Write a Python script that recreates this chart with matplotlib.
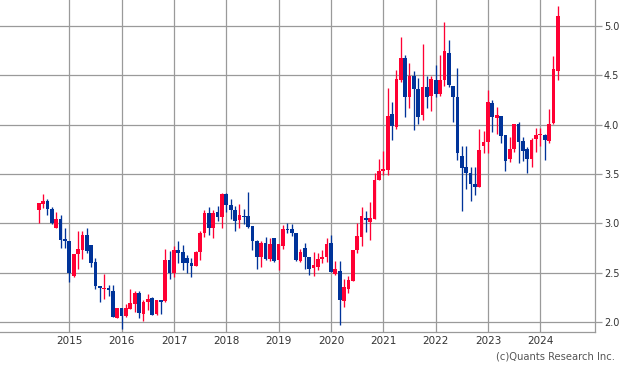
import matplotlib
matplotlib.use("Agg")
import matplotlib.pyplot as plt
import numpy as np

# Monthly candles, June 2014 .. May 2024
start_year = 2014
start_month = 6

opens = [
    3.13, 3.20, 3.23, 3.15, 2.95, 3.04, 2.84,                                   # 2014 Jun-Dec
    2.82, 2.47, 2.69, 2.73, 2.88, 2.78, 2.61, 2.36, 2.33, 2.34, 2.31, 2.04,     # 2015
    2.14, 2.06, 2.13, 2.18, 2.29, 2.08, 2.20, 2.24, 2.08, 2.22, 2.21, 2.63,     # 2016
    2.50, 2.73, 2.71, 2.65, 2.60, 2.57, 2.71, 2.90, 3.10, 2.95, 3.11, 3.06,     # 2017
    3.30, 3.19, 3.13, 3.03, 3.07, 3.07, 2.97, 2.82, 2.66, 2.80, 2.64, 2.85,     # 2018
    2.63, 2.77, 2.94, 2.94, 2.90, 2.62, 2.75, 2.66, 2.55, 2.56, 2.64, 2.66,     # 2019
    2.80, 2.49, 2.52, 2.21, 2.33, 2.42, 2.73, 2.86, 3.05, 3.01, 3.04, 3.44,     # 2020
    3.53, 3.54, 4.11, 3.98, 4.45, 4.68, 4.28, 4.49, 4.36, 4.10, 4.38, 4.29,     # 2021
    4.45, 4.31, 4.45, 4.73, 4.39, 4.28, 3.68, 3.57, 3.51, 3.40, 3.37, 3.78,     # 2022
    3.82, 4.22, 4.07, 4.09, 3.89, 3.65, 3.75, 4.01, 3.83, 3.75, 3.65, 3.85,     # 2023
    3.89, 3.90, 3.83, 4.02, 4.54,                                               # 2024
]
highs = [
    3.21, 3.30, 3.25, 3.17, 3.11, 3.08, 2.95,
    2.82, 2.69, 2.92, 2.92, 2.95, 2.78, 2.65, 2.36, 2.49, 2.37, 2.37, 2.14,
    2.14, 2.18, 2.33, 2.31, 2.31, 2.22, 2.28, 2.25, 2.22, 2.22, 2.74, 2.72,
    2.77, 2.82, 2.78, 2.68, 2.65, 2.72, 2.92, 3.14, 3.17, 3.14, 3.18, 3.31,
    3.31, 3.25, 3.18, 3.20, 3.15, 3.32, 2.97, 2.83, 2.82, 2.86, 2.85, 2.85,
    2.79, 2.98, 3.00, 2.99, 2.90, 2.74, 2.80, 2.66, 2.71, 2.70, 2.73, 2.85,
    2.88, 2.62, 2.62, 2.44, 2.47, 2.73, 3.00, 3.17, 3.12, 3.22, 3.51, 3.65,
    3.73, 4.37, 4.23, 4.55, 4.89, 4.71, 4.62, 4.54, 4.47, 4.82, 4.49, 4.49,
    4.60, 4.71, 5.04, 4.86, 4.39, 4.57, 3.78, 3.78, 3.57, 3.57, 3.96, 3.94,
    4.35, 4.25, 4.18, 4.09, 3.89, 3.87, 4.01, 4.03, 3.87, 3.77, 3.86, 3.97,
    3.97, 3.91, 4.16, 4.70, 5.20,
]
lows = [
    3.00, 3.16, 3.08, 2.99, 2.95, 2.75, 2.75,
    2.41, 2.46, 2.54, 2.64, 2.70, 2.56, 2.33, 2.20, 2.23, 2.26, 2.05, 2.04,
    1.93, 2.05, 2.13, 2.10, 2.04, 2.01, 2.12, 2.07, 2.07, 2.08, 2.20, 2.44,
    2.46, 2.60, 2.53, 2.50, 2.46, 2.57, 2.63, 2.86, 2.88, 2.85, 3.02, 2.95,
    3.11, 3.04, 2.92, 2.95, 2.99, 2.95, 2.73, 2.54, 2.56, 2.63, 2.62, 2.61,
    2.53, 2.74, 2.90, 2.87, 2.62, 2.61, 2.54, 2.48, 2.47, 2.53, 2.60, 2.61,
    2.51, 2.48, 1.97, 2.15, 2.29, 2.42, 2.70, 2.77, 2.91, 2.83, 3.04, 3.44,
    3.49, 3.49, 3.84, 3.96, 4.43, 4.08, 4.17, 3.95, 4.01, 4.05, 4.17, 4.14,
    4.28, 4.29, 4.39, 4.38, 4.03, 3.64, 3.12, 3.35, 3.23, 3.29, 3.37, 3.71,
    3.71, 3.93, 3.91, 3.81, 3.53, 3.62, 3.72, 3.61, 3.63, 3.51, 3.57, 3.72,
    3.78, 3.64, 3.81, 4.01, 4.45,
]
closes = [
    3.21, 3.23, 3.15, 3.00, 3.04, 2.83, 2.82,
    2.50, 2.69, 2.74, 2.88, 2.72, 2.60, 2.36, 2.34, 2.34, 2.32, 2.05, 2.14,
    2.06, 2.14, 2.19, 2.29, 2.09, 2.20, 2.23, 2.07, 2.22, 2.20, 2.63, 2.50,
    2.73, 2.70, 2.60, 2.60, 2.57, 2.71, 2.90, 3.10, 2.95, 3.10, 3.06, 3.30,
    3.19, 3.13, 3.02, 3.08, 3.06, 2.96, 2.82, 2.66, 2.80, 2.64, 2.79, 2.62,
    2.79, 2.94, 2.93, 2.90, 2.63, 2.71, 2.66, 2.54, 2.58, 2.64, 2.66, 2.79,
    2.51, 2.54, 2.22, 2.35, 2.43, 2.73, 2.87, 3.07, 3.03, 3.05, 3.44, 3.53,
    3.55, 4.09, 3.99, 4.46, 4.68, 4.28, 4.49, 4.36, 4.08, 4.38, 4.28, 4.46,
    4.31, 4.45, 4.75, 4.40, 4.28, 3.71, 3.56, 3.51, 3.40, 3.37, 3.74, 3.82,
    4.23, 4.08, 4.10, 3.88, 3.63, 3.75, 4.01, 3.82, 3.73, 3.65, 3.84, 3.89,
    3.91, 3.84, 4.01, 4.56, 5.10,
]

year_ticks = [2015, 2016, 2017, 2018, 2019, 2020, 2021, 2022, 2023, 2024]
price_ticks = [2.0, 2.5, 3.0, 3.5, 4.0, 4.5, 5.0]
credit = "(c)Quants Research Inc."

up_color = "#ff0033"
down_color = "#003399"
grid_color = "#9a9a9a"

o = np.array(opens); h = np.array(highs); l = np.array(lows); c = np.array(closes)
n = len(o)
x = start_year + (start_month - 1) / 12 + np.arange(n) / 12.0
up = c >= o
colors = np.where(up, up_color, down_color)

fig = plt.figure(figsize=(6.22, 3.73), dpi=100)
ax = fig.add_axes([0.0, 0.1099, 0.9566, 0.8901])

ax.set_xlim(2013.676, 2025.045)
ax.set_ylim(1.8987, 5.263)

ax.set_axisbelow(True)
for yt in price_ticks:
    ax.axhline(yt, color=grid_color, lw=0.9, zorder=0)
for xt in year_ticks:
    ax.axvline(xt, color=grid_color, lw=0.9, zorder=0)

ax.vlines(x, l, h, colors=colors, lw=0.95, zorder=2)
bottoms = np.minimum(o, c)
heights = np.maximum(np.abs(c - o), 0.012)
ax.bar(x, heights, bottom=bottoms, width=0.071, color=colors, edgecolor="none", zorder=3)

for s in ["top", "left"]:
    ax.spines[s].set_visible(False)
for s in ["right", "bottom"]:
    ax.spines[s].set_color(grid_color)
    ax.spines[s].set_linewidth(0.9)

ax.yaxis.tick_right()
ax.set_yticks(price_ticks)
ax.set_yticklabels([f"{v:.1f}" for v in price_ticks])
ax.tick_params(axis="y", length=5, width=0.9, color=grid_color, labelsize=7, labelcolor="#333333", pad=1.5)
ax.set_xticks(year_ticks)
ax.set_xticklabels([str(y) for y in year_ticks])
ax.tick_params(axis="x", length=0, labelsize=7.5, labelcolor="#333333", pad=3)

fig.text(0.988, 0.043, credit, ha="right", va="center", fontsize=7.2, color="#555555")

fig.savefig("out.png", dpi=100)
